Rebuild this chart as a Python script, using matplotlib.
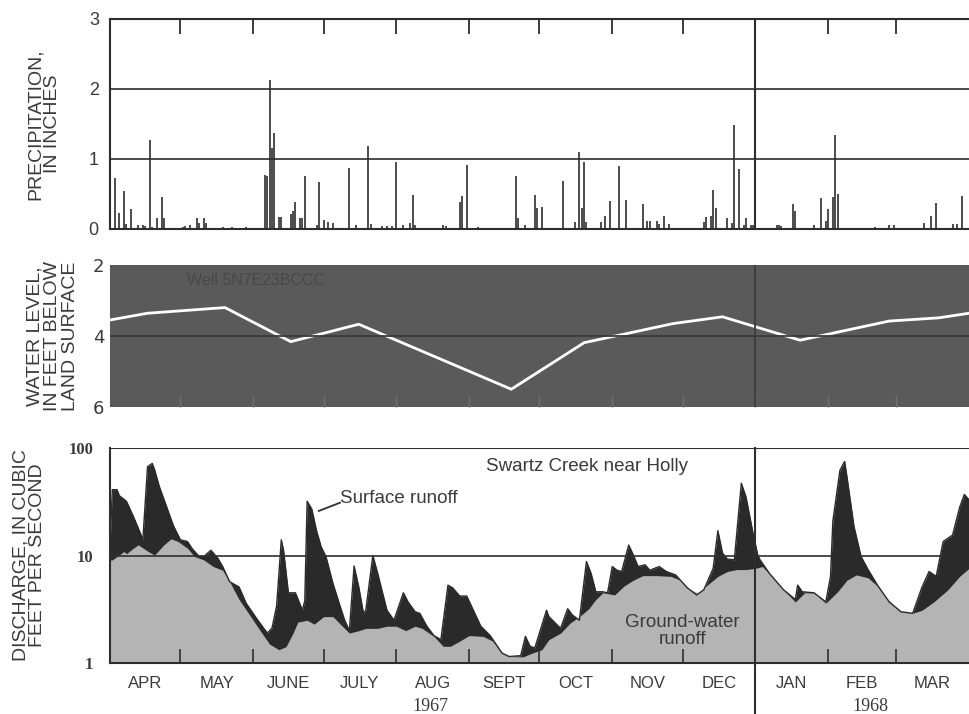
import matplotlib.pyplot as plt
from matplotlib.ticker import FixedLocator, NullFormatter

# days counted from 1 April 1967
month_starts = [0, 30, 61, 91, 122, 153, 183, 214, 244, 275, 306, 335, 366]
month_names = ['APR', 'MAY', 'JUNE', 'JULY', 'AUG', 'SEPT', 'OCT', 'NOV',
               'DEC', 'JAN', 'FEB', 'MAR']
year_break = 275

# daily precipitation, inches
precip_days = [2, 4, 6, 7, 9, 12, 14, 15, 17, 18, 20, 22, 23, 31, 32, 34, 37, 38, 40, 41,
               48, 52, 58, 66, 67, 68, 69, 70, 72, 73, 77, 78, 79, 81, 82, 83, 88, 89, 91,
               93, 95, 102, 105, 110, 111, 116, 118, 120, 122, 125, 128, 129, 130, 142, 143,
               149, 150, 152, 157, 173, 174, 177, 181, 182, 184, 193, 198, 200, 201, 202, 203,
               209, 211, 213, 217, 220, 227, 229, 230, 233, 234, 236, 238, 253, 254, 256, 257,
               258, 263, 265, 266, 268, 270, 271, 273, 274, 284, 285, 286, 291, 292, 300, 303,
               305, 306, 308, 309, 310, 326, 332, 334, 347, 350, 352, 359, 361, 363]
precip_in = [0.73, 0.23, 0.54, 0.07, 0.28, 0.05, 0.05, 0.04, 1.27, 0.03, 0.15, 0.45, 0.15,
             0.03, 0.04, 0.05, 0.15, 0.08, 0.15, 0.08, 0.03, 0.03, 0.03, 0.77, 0.75, 2.13,
             1.15, 1.37, 0.17, 0.17, 0.22, 0.25, 0.38, 0.15, 0.15, 0.76, 0.05, 0.67, 0.13,
             0.10, 0.08, 0.87, 0.05, 1.18, 0.07, 0.04, 0.04, 0.04, 0.95, 0.05, 0.08, 0.48,
             0.06, 0.05, 0.04, 0.38, 0.47, 0.91, 0.03, 0.75, 0.15, 0.05, 0.48, 0.30, 0.32,
             0.68, 0.10, 1.10, 0.30, 0.95, 0.10, 0.10, 0.18, 0.40, 0.90, 0.42, 0.36, 0.12,
             0.12, 0.12, 0.07, 0.18, 0.07, 0.10, 0.17, 0.18, 0.55, 0.30, 0.15, 0.08, 1.49,
             0.85, 0.05, 0.15, 0.05, 0.05, 0.05, 0.05, 0.04, 0.36, 0.25, 0.05, 0.44, 0.12,
             0.28, 0.45, 1.34, 0.50, 0.03, 0.06, 0.06, 0.08, 0.18, 0.37, 0.07, 0.07, 0.47]

# water level in well 5N7E23BCCC, feet below land surface
well_days = [0, 16, 49, 77, 106, 171, 202, 240, 261, 294, 332, 353, 366]
well_level = [3.55, 3.36, 3.2, 4.16, 3.67, 5.5, 4.19, 3.65, 3.46, 4.12, 3.58, 3.49, 3.36]

# Swartz Creek near Holly, total discharge, cfs
total_days = [0, 1, 3, 4, 7, 10, 13, 14, 16, 18, 19, 21, 24, 27, 30, 33, 35, 38, 40, 43,
              46, 48, 51, 55, 58, 63, 67, 69, 71, 73, 74, 76, 79, 82, 83, 84, 86, 88, 90,
              92, 95, 98, 100, 102, 104, 106, 108, 109, 112, 114, 118, 121, 125, 127, 130,
              132, 135, 138, 141, 144, 146, 149, 152, 158, 162, 167, 170, 175, 177, 179, 181,
              186, 187, 192, 195, 197, 200, 203, 205, 207, 210, 212, 214, 216, 218, 221, 223,
              225, 228, 230, 234, 237, 241, 246, 250, 253, 257, 259, 261, 263, 266, 269, 271,
              274, 276, 277, 281, 287, 292, 293, 295, 300, 305, 307, 308, 311, 313, 314, 317,
              320, 323, 327, 332, 337, 342, 346, 349, 352, 355, 359, 362, 364, 366]
total_cfs = [12, 41, 41, 36, 32, 23, 16, 14, 67, 72, 63, 44, 29, 19, 14, 13.5, 11.6, 9.8,
             9.8, 11.2, 9.4, 7.9, 5.7, 5.1, 3.6, 2.5, 1.9, 2.1, 3.4, 14, 11, 4.5, 4.5, 3.1,
             3.8, 32, 27, 17, 12, 9.8, 5.5, 3.4, 2.5, 2.0, 8.0, 5.1, 2.9, 3.1, 10, 6.9, 3.1,
             2.5, 4.5, 3.7, 3.0, 2.9, 2.2, 1.8, 1.65, 5.3, 5.0, 4.2, 4.2, 2.2, 1.8, 1.24,
             1.15, 1.17, 1.77, 1.43, 1.38, 3.1, 2.7, 2.1, 3.2, 2.8, 2.5, 8.8, 6.8, 4.6, 4.6,
             4.5, 7.9, 7.3, 7.1, 12.5, 10.1, 7.9, 8.2, 7.3, 7.9, 7.1, 6.6, 5.0, 4.3, 4.8, 7.6,
             17, 10.5, 9.3, 9.1, 47, 35, 16, 10.1, 9.1, 6.8, 4.8, 3.9, 5.3, 4.6, 4.5, 3.7,
             6.4, 21, 62, 75, 54, 18.6, 9.8, 7.4, 5.3, 3.7, 3.0, 2.9, 5.1, 7.1, 6.4, 13.5,
             15.5, 28, 37, 33]

# ground-water runoff, cfs
gw_days = [0, 1, 3, 6, 7, 10, 12, 16, 19, 23, 26, 29, 33, 36, 40, 44, 48, 51, 55, 60, 64,
           68, 72, 75, 78, 80, 84, 87, 91, 95, 99, 102, 106, 109, 114, 118, 122, 126, 130,
           133, 138, 142, 145, 149, 153, 159, 163, 167, 170, 176, 180, 184, 187, 192, 196,
           200, 204, 207, 210, 215, 219, 223, 227, 233, 239, 243, 247, 251, 254, 259, 263,
           267, 271, 275, 278, 282, 287, 292, 296, 300, 305, 310, 314, 318, 323, 327, 331,
           337, 342, 346, 351, 357, 362, 366]
gw_cfs = [9.1, 9.1, 9.8, 10.9, 10.4, 11.7, 12.6, 11, 10.1, 12.6, 14.3, 13.5, 11.7, 9.8, 9.1,
          7.9, 7.3, 5.7, 3.9, 2.7, 2.0, 1.5, 1.33, 1.42, 1.9, 2.4, 2.5, 2.3, 2.7, 2.7, 2.2,
          1.9, 2.0, 2.1, 2.1, 2.2, 2.2, 2.0, 2.2, 2.1, 1.77, 1.43, 1.43, 1.6, 1.8, 1.77, 1.6,
          1.24, 1.15, 1.14, 1.24, 1.33, 1.65, 1.9, 2.35, 2.7, 3.2, 3.9, 4.5, 4.3, 5.2, 5.9,
          6.5, 6.5, 6.4, 5.9, 4.8, 4.5, 5.2, 6.4, 7.1, 7.4, 7.4, 7.6, 7.9, 6.4, 4.8, 3.7,
          4.5, 4.5, 3.6, 4.6, 5.9, 6.6, 6.2, 5.2, 4.0, 3.0, 2.9, 3.1, 3.7, 4.8, 6.4, 7.6]

ink = '#2e2e2e'
label_color = '#3a3a3a'
sans = 'Liberation Sans'
serif = 'Liberation Serif'

fig = plt.figure(figsize=(9.69, 7.14), dpi=100)
ax1 = fig.add_axes([0.1135, 0.6793, 0.8865, 0.2941])
ax2 = fig.add_axes([0.1135, 0.4300, 0.8865, 0.1989])
ax3 = fig.add_axes([0.1135, 0.0714, 0.8865, 0.3011])

for ax in (ax1, ax2, ax3):
    ax.set_xlim(0, 366)
    ax.spines['right'].set_visible(False)
    ax.xaxis.set_major_locator(FixedLocator(month_starts[1:-1]))
    ax.xaxis.set_major_formatter(NullFormatter())

# precipitation
ax1.vlines(precip_days, 0, precip_in, colors=ink, lw=1.2)
ax1.set_ylim(0, 3)
ax1.set_yticks([0, 1, 2, 3])
for v in (1, 2):
    ax1.axhline(v, color=ink, lw=1.2)
ax1.axvline(year_break, color=ink, lw=1.5)
ax1.tick_params(axis='x', top=True, bottom=False, direction='in', length=11,
                width=1.3, color=ink)
ax1.tick_params(axis='y', length=0, labelsize=13, labelcolor=label_color, pad=8)
for s in ('top', 'left', 'bottom'):
    ax1.spines[s].set_color(ink)
    ax1.spines[s].set_linewidth(1.5)
ax1.set_ylabel('PRECIPITATION,\nIN INCHES', fontsize=14, color=label_color,
               family=sans, labelpad=20, linespacing=1.0)
for t in ax1.get_yticklabels():
    t.set_family(sans)

# water level
ax2.set_facecolor('#5a5a5a')
ax2.plot(well_days, well_level, color='white', lw=2)
ax2.set_ylim(6, 2)
ax2.set_yticks([2, 4, 6])
ax2.axhline(4, color='#3c3c3c', lw=1.3)
ax2.axvline(year_break, color='#3c3c3c', lw=1.3)
ax2.tick_params(axis='x', bottom=True, direction='in', length=9, width=1, color='#707070')
ax2.tick_params(axis='y', length=0, labelsize=13, labelcolor=label_color, pad=4)
for s in ax2.spines.values():
    s.set_visible(False)
ax2.text(33, 2.45, 'Well 5N7E23BCCC', fontsize=11.5, color='#484848',
         family=sans, va='center')
ax2.set_ylabel('WATER LEVEL,\nIN FEET BELOW\nLAND SURFACE', fontsize=14,
               color=label_color, family=sans, labelpad=10, linespacing=1.05)

# discharge
ax3.set_yscale('log')
ax3.set_ylim(1, 100)
ax3.fill_between(total_days, 1, total_cfs, color='#2a2a2a', lw=0)
ax3.fill_between(gw_days, 1, gw_cfs, color='#b4b4b4', lw=0)
ax3.plot(total_days, total_cfs, color='#2a2a2a', lw=1)
ax3.axhline(10, color=ink, lw=1.2)
ax3.axhline(100, color=ink, lw=1.5)
ax3.axvline(year_break, ymin=-0.24, ymax=1, color=ink, lw=1.5, clip_on=False)
ax3.set_yticks([1, 10, 100])
ax3.set_yticklabels(['1', '10', '100'])
ax3.yaxis.set_minor_locator(FixedLocator([]))
ax3.tick_params(axis='x', which='major', bottom=True, direction='in', length=10,
                width=1.2, color=ink)
mids = [(a + b) / 2 for a, b in zip(month_starts[:-1], month_starts[1:])]
ax3.xaxis.set_minor_locator(FixedLocator(mids))
ax3.set_xticklabels(month_names, minor=True)
ax3.tick_params(axis='x', which='minor', length=0, labelsize=12, pad=9,
                labelcolor=label_color)
for t in ax3.get_xticklabels(minor=True):
    t.set_family(sans)
ax3.tick_params(axis='y', length=0, labelsize=12, labelcolor=label_color, pad=12)
for t in ax3.get_yticklabels():
    t.set_family(serif)
    t.set_weight('bold')
for s in ('left', 'bottom'):
    ax3.spines[s].set_color(ink)
    ax3.spines[s].set_linewidth(1.5)
ax3.spines['top'].set_visible(False)
ax3.set_ylabel('DISCHARGE, IN CUBIC\nFEET PER SECOND', fontsize=14, color=label_color,
               family=sans, labelpad=16, linespacing=1.0)

ax3.text(0.373, -0.2, '1967', transform=ax3.transAxes, ha='center', va='center',
         fontsize=13, color=label_color, family=serif)
ax3.text(0.885, -0.2, '1968', transform=ax3.transAxes, ha='center', va='center',
         fontsize=13, color=label_color, family=serif)
ax3.text(160, 68, 'Swartz Creek near Holly', fontsize=13.5, color=label_color, family=sans,
         va='center')
ax3.text(98, 34, 'Surface runoff', fontsize=13.5, color=label_color, family=sans,
         va='center')
ax3.plot([89, 98], [26, 31], color=ink, lw=1.3)
ax3.text(244, 2.0, 'Ground-water\nrunoff', fontsize=13.5, color='#3a3a3a', family=sans,
         ha='center', va='center', linespacing=1.0)

fig.savefig('out.png', dpi=100)
